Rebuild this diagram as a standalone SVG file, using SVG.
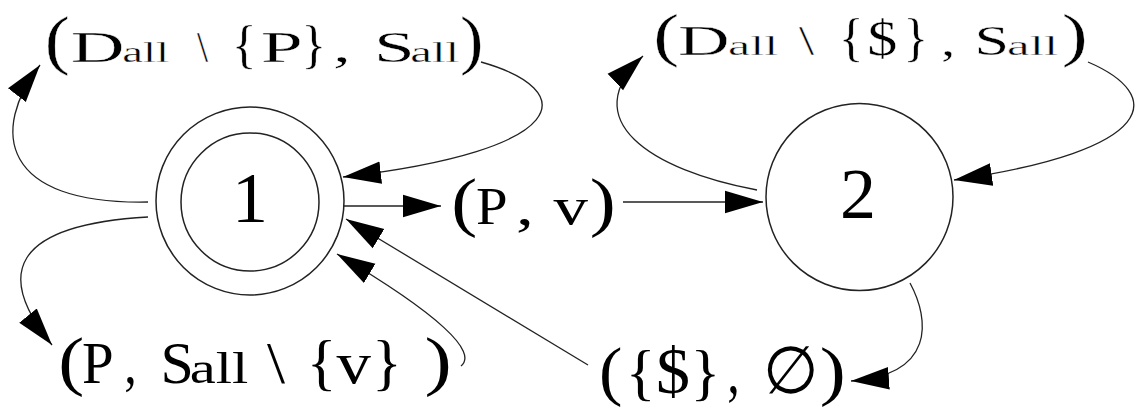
<svg xmlns="http://www.w3.org/2000/svg" width="1137" height="417" viewBox="0 0 1137 417">
<style>
.node{fill:none;stroke:#222;stroke-width:1.5}
.num{font-family:"Liberation Serif","DejaVu Serif",serif;font-size:72px;fill:#000;text-anchor:middle}
.lbl{font-family:"Liberation Serif","DejaVu Serif",serif;fill:#000}
.wide{stroke:#fff;stroke-width:0.35px}
.e{fill:none;stroke:#222;stroke-width:1.3;marker-end:url(#ah)}
</style>
<defs>
<marker id="ah" markerUnits="userSpaceOnUse" markerWidth="38" markerHeight="24" refX="37" refY="11" orient="auto" viewBox="0 0 37 22"><path d="M0,0 L37,11 L0,22 z" fill="#000"/></marker>
</defs>
<rect width="1137" height="417" fill="#fff"/>
<g id="node1">
<circle class="node" cx="250" cy="201" r="94"/>
<circle class="node" cx="250" cy="202" r="69"/>
<text class="num" x="250" y="222">1</text>
</g>
<g id="node2">
<circle class="node" cx="859.5" cy="197" r="93.5"/>
<text class="num" x="858" y="218">2</text>
</g>
<g id="labelA">
<text class="lbl wide" y="62" font-size="45"><tspan x="44.8" font-size="66" textLength="25" lengthAdjust="spacingAndGlyphs">(</tspan><tspan x="70.8" textLength="53.8" lengthAdjust="spacingAndGlyphs">D</tspan><tspan x="122.3" font-size="29" textLength="46.8" lengthAdjust="spacingAndGlyphs">all</tspan> <tspan x="197" textLength="11" lengthAdjust="spacingAndGlyphs">\</tspan> <tspan x="231.8" font-size="52">{</tspan><tspan x="260.7" textLength="42.1" lengthAdjust="spacingAndGlyphs">P</tspan><tspan x="301.3" font-size="52">}</tspan><tspan x="333.1" textLength="17.9" lengthAdjust="spacingAndGlyphs">,</tspan> <tspan x="373.9" textLength="40.7" lengthAdjust="spacingAndGlyphs">S</tspan><tspan x="410.2" font-size="29" textLength="48.9" lengthAdjust="spacingAndGlyphs">all</tspan><tspan x="460" font-size="66" textLength="23.4" lengthAdjust="spacingAndGlyphs">)</tspan></text>
</g>
<g id="labelB">
<text class="lbl wide" y="55" font-size="42"><tspan x="653.3" font-size="60" textLength="26" lengthAdjust="spacingAndGlyphs">(</tspan><tspan x="677.9" textLength="51.6" lengthAdjust="spacingAndGlyphs">D</tspan><tspan x="728.1" font-size="27" textLength="50" lengthAdjust="spacingAndGlyphs">all</tspan> <tspan x="799" textLength="15" lengthAdjust="spacingAndGlyphs">\</tspan> <tspan x="838.8" font-size="52">{</tspan><tspan x="867.3" font-size="50" textLength="30.1" lengthAdjust="spacingAndGlyphs">$</tspan><tspan x="903.2" font-size="52">}</tspan><tspan x="940.9" textLength="14.3" lengthAdjust="spacingAndGlyphs">,</tspan> <tspan x="974.4" textLength="34.6" lengthAdjust="spacingAndGlyphs">S</tspan><tspan x="1007.1" font-size="27" textLength="51" lengthAdjust="spacingAndGlyphs">all</tspan><tspan x="1061.7" font-size="60" textLength="26" lengthAdjust="spacingAndGlyphs">)</tspan></text>
</g>
<g id="labelPv">
<text class="lbl" y="224" font-size="53"><tspan x="451.3" font-size="66" textLength="26" lengthAdjust="spacingAndGlyphs">(</tspan><tspan x="476" textLength="31.6" lengthAdjust="spacingAndGlyphs">P</tspan><tspan x="516.1" textLength="17.9" lengthAdjust="spacingAndGlyphs">,</tspan> <tspan x="553.6" textLength="34.4" lengthAdjust="spacingAndGlyphs">v</tspan><tspan x="589.7" font-size="66" textLength="26" lengthAdjust="spacingAndGlyphs">)</tspan></text>
</g>
<g id="labelC">
<text class="lbl" y="383" font-size="60"><tspan x="58.3" font-size="66" textLength="26" lengthAdjust="spacingAndGlyphs">(</tspan><tspan x="82" textLength="31.6" lengthAdjust="spacingAndGlyphs">P</tspan><tspan x="124.3" textLength="12.5" lengthAdjust="spacingAndGlyphs">,</tspan> <tspan x="160.5" textLength="33.3" lengthAdjust="spacingAndGlyphs">S</tspan><tspan x="189.8" font-size="44" textLength="58.5" lengthAdjust="spacingAndGlyphs">all</tspan> <tspan x="267" textLength="18" lengthAdjust="spacingAndGlyphs">\</tspan> <tspan x="306.7" font-size="62">{</tspan><tspan x="336.6" textLength="34.4" lengthAdjust="spacingAndGlyphs">v</tspan><tspan x="372" font-size="62">}</tspan> <tspan x="424.6" font-size="66" textLength="27.3" lengthAdjust="spacingAndGlyphs">)</tspan></text>
</g>
<g id="labelD">
<text class="lbl" y="393" font-size="66"><tspan x="598.9" textLength="23.4" lengthAdjust="spacingAndGlyphs">(</tspan> <tspan x="625.8" font-size="62">{</tspan><tspan x="656" textLength="34" lengthAdjust="spacingAndGlyphs">$</tspan><tspan x="690.5" font-size="62">}</tspan><tspan x="727.3" textLength="12.5" lengthAdjust="spacingAndGlyphs">,</tspan> <tspan x="762.9" textLength="56" lengthAdjust="spacingAndGlyphs">∅</tspan><tspan x="819.7" textLength="26" lengthAdjust="spacingAndGlyphs">)</tspan></text>
</g>
<g id="connectors">
<path class="e" d="M148,202 C0,205 -10,130 40,65"/>
<path class="e" d="M481,62 C580,90 575,150 343,177"/>
<path class="e" d="M343,206 L441,206"/>
<path class="e" d="M623,202 L763,202"/>
<path class="e" d="M757,190 C650,170 575,120 643,56"/>
<path class="e" d="M1088,62 C1165,95 1160,150 954,180"/>
<path class="e" d="M148,217 C10,225 -5,275 52,345"/>
<path class="e" d="M461,366 C478,352 440,315 337,254"/>
<path class="e" d="M588,365 L346,219"/>
<path class="e" d="M910,283 C930,320 935,375 851,381"/>
</g>
</svg>
